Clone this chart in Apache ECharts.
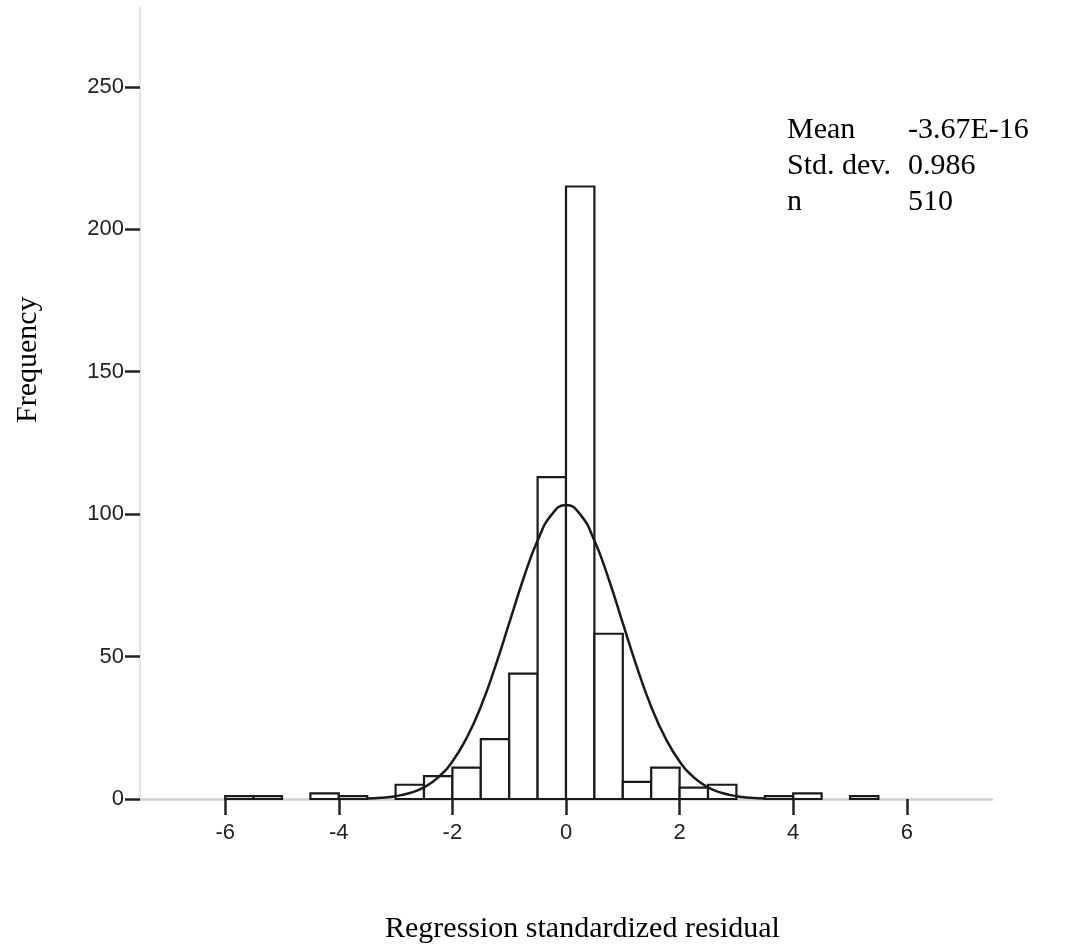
<!DOCTYPE html>
<html>
<head>
<meta charset="utf-8">
<script src="https://cdn.jsdelivr.net/npm/echarts@6/dist/echarts.min.js"></script>
<style>
  html, body { margin: 0; padding: 0; background: #fff; }
  #chart { width: 1091px; height: 950px; }
</style>
</head>
<body>
<div id="chart"></div>
<script>
// histogram bins (left edge) and counts, bin width 0.5
var binStarts = [-6, -5.5, -4.5, -4, -3, -2.5, -2, -1.5, -1, -0.5, 0, 0.5, 1, 1.5, 2, 2.5, 3.5, 4, 5];
var binWidth = 0.5;
var counts = [1, 1, 2, 1, 5, 8, 11, 21, 44, 113, 215, 58, 6, 11, 4, 5, 1, 2, 1];

// fitted normal curve
var curveX = [-3.5, -3.25, -3, -2.75, -2.5, -2.25, -2, -1.75, -1.5, -1.25, -1, -0.75, -0.5, -0.25, 0,
              0.25, 0.5, 0.75, 1, 1.25, 1.5, 1.75, 2, 2.25, 2.5, 2.75, 3, 3.25, 3.5];
var curveY = [0.2, 0.45, 1.0, 2.1, 4.1, 7.6, 13.2, 21.4, 32.4, 46.2, 61.7, 77.3, 90.7, 99.9, 103.2,
              99.9, 90.7, 77.3, 61.7, 46.2, 32.4, 21.4, 13.2, 7.6, 4.1, 2.1, 1.0, 0.45, 0.2];

var xTicks = [-6, -4, -2, 0, 2, 4, 6];
var yTicks = [0, 50, 100, 150, 200, 250];

var statLabels = ['Mean', 'Std. dev.', 'n'];
var statValues = ['-3.67E-16', '0.986', '510'];

var chart = echarts.init(document.getElementById('chart'));

var bars = binStarts.map(function (s, i) { return [s, s + binWidth, counts[i]]; });
var curve = curveX.map(function (x, i) { return [x, curveY[i]]; });

var axisFont = 'Liberation Sans, Arial, sans-serif';
var serif = 'Liberation Serif, Times New Roman, serif';

var graphics = [];
statLabels.forEach(function (t, i) {
  graphics.push({
    type: 'text', left: 787, top: 115 + i * 36,
    style: { text: t, font: '30px ' + serif, fill: '#000' }
  });
  graphics.push({
    type: 'text', left: 908, top: 115 + i * 36,
    style: { text: statValues[i], font: '30px ' + serif, fill: '#000' }
  });
});
graphics.push({
  type: 'text', left: 385, top: 914,
  style: { text: 'Regression standardized residual', font: '30px ' + serif, fill: '#000' }
});
graphics.push({
  type: 'text', x: 13, y: 423, rotation: Math.PI / 2,
  style: { text: 'Frequency', font: '30px ' + serif, fill: '#000' }
});

chart.setOption({
  backgroundColor: '#fff',
  animation: false,
  grid: { left: 140, right: 99, top: 7, bottom: 151 },
  xAxis: {
    type: 'value', min: -7.5, max: 7.5,
    splitLine: { show: false },
    axisLine: { show: true, onZero: false, lineStyle: { color: '#d0d0d0', width: 2.5 } },
    axisTick: { show: true, length: 16, customValues: xTicks, lineStyle: { color: '#222', width: 2.5 } },
    axisLabel: { customValues: xTicks, margin: 23, fontFamily: axisFont, fontSize: 22, color: '#222' }
  },
  yAxis: {
    type: 'value', min: 0, max: 278,
    splitLine: { show: false },
    axisLine: { show: true, onZero: false, lineStyle: { color: '#e4e4e4', width: 2 } },
    axisTick: { show: true, length: 15, customValues: yTicks, lineStyle: { color: '#222', width: 2.5 } },
    axisLabel: { customValues: yTicks, margin: 16, fontFamily: axisFont, fontSize: 22, color: '#222' }
  },
  series: [
    {
      type: 'custom',
      data: bars,
      encode: { x: [0, 1], y: 2 },
      renderItem: function (params, api) {
        var p0 = api.coord([api.value(0), 0]);
        var p1 = api.coord([api.value(1), api.value(2)]);
        return {
          type: 'rect',
          shape: { x: p0[0], y: p1[1], width: p1[0] - p0[0], height: p0[1] - p1[1] },
          style: { fill: '#fff', stroke: '#1a1a1a', lineWidth: 2.2 }
        };
      },
      z: 2
    },
    {
      type: 'line',
      data: curve,
      smooth: true,
      showSymbol: false,
      lineStyle: { color: '#1a1a1a', width: 2.5 },
      z: 3
    }
  ],
  graphic: graphics
});
</script>
</body>
</html>
